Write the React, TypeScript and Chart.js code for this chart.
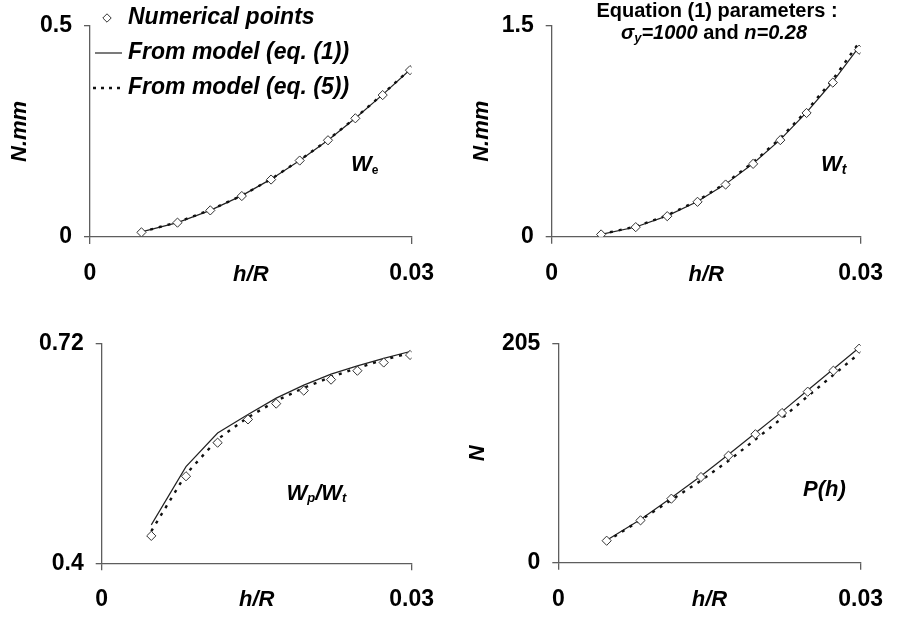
import React, { useEffect, useRef } from "react";
import { Chart, registerables } from "chart.js";
Chart.register(...registerables);

// ---------- data ----------
const hR = [0.0048, 0.00816, 0.01122, 0.01416, 0.01689, 0.01956, 0.0222, 0.02475, 0.0273, 0.02985];
const xTicks = [0, 0.03];

const weNum = [0.011, 0.034, 0.063, 0.097, 0.136, 0.181, 0.229, 0.281, 0.336, 0.395];
const weEq1 = [0.012, 0.034, 0.063, 0.098, 0.137, 0.181, 0.229, 0.281, 0.337, 0.396];
const weEq5 = [0.012, 0.035, 0.064, 0.098, 0.137, 0.182, 0.23, 0.282, 0.338, 0.397];
const weTicks = [0, 0.5];

const wtNum = [0.016, 0.068, 0.146, 0.248, 0.371, 0.518, 0.687, 0.88, 1.096, 1.33];
const wtEq1 = [0.017, 0.069, 0.148, 0.25, 0.374, 0.521, 0.69, 0.884, 1.102, 1.35];
const wtEq5 = [0.018, 0.072, 0.152, 0.256, 0.381, 0.529, 0.7, 0.896, 1.118, 1.38];
const wtTicks = [0, 1.5];

const ratioNum = [0.44, 0.527, 0.576, 0.61, 0.633, 0.652, 0.668, 0.681, 0.693, 0.704];
const ratioEq1 = [0.456, 0.541, 0.59, 0.617, 0.641, 0.66, 0.676, 0.688, 0.699, 0.709];
const ratioEq5 = [0.447, 0.53, 0.581, 0.613, 0.637, 0.656, 0.672, 0.685, 0.697, 0.707];
const ratioTicks = [0.4, 0.72];

const pNum = [20.6, 39.7, 60, 80.3, 100.3, 120.4, 140.3, 160.3, 180, 200.6];
const pEq1 = [21, 40.5, 60.8, 81.2, 101.5, 121.6, 141.6, 161.6, 181.5, 201.5];
const pEq5 = [20, 40, 58.8, 77, 95.5, 115.5, 135.5, 156, 176, 196];
const pTicks = [0, 205];

const legendLabels = ["Numerical points", "From model (eq. (1))", "From model (eq. (5))"];

// ---------- styles ----------
const FF = '"Liberation Sans", Arial, Helvetica, sans-serif';
const BI = (s: number) => `italic bold ${s}px ${FF}`;
const B = (s: number) => `bold ${s}px ${FF}`;
const AXIS = "#5e5e5e";
const DOT_DASH = [3, 6];
const TICK_SIZE = 23;

type Part = { t: string; f: string; dy?: number };
type Item = { x: number; y: number; align?: "left" | "center"; parts: Part[] };

const decoPlugin = {
  id: "deco",
  afterDraw(chart: any, _a: any, opts: any) {
    const ctx = chart.ctx as CanvasRenderingContext2D;
    ctx.save();
    ctx.fillStyle = "#000";
    ctx.textBaseline = "middle";
    ctx.textAlign = "left";
    const items: Item[] = opts.items || [];
    for (const it of items) {
      let w = 0;
      for (const p of it.parts) {
        ctx.font = p.f;
        w += ctx.measureText(p.t).width;
      }
      let x = it.align === "center" ? it.x - w / 2 : it.x;
      for (const p of it.parts) {
        ctx.font = p.f;
        ctx.fillText(p.t, x, it.y + (p.dy || 0));
        x += ctx.measureText(p.t).width;
      }
    }
    if (opts.legend) {
      const L = opts.legend;
      ctx.beginPath();
      const r = 4.2;
      ctx.moveTo(L.symX, L.rows[0] - r);
      ctx.lineTo(L.symX + r, L.rows[0]);
      ctx.lineTo(L.symX, L.rows[0] + r);
      ctx.lineTo(L.symX - r, L.rows[0]);
      ctx.closePath();
      ctx.fillStyle = "#fff";
      ctx.fill();
      ctx.strokeStyle = "#333";
      ctx.lineWidth = 1;
      ctx.stroke();
      ctx.beginPath();
      ctx.moveTo(L.lineX0, L.rows[1]);
      ctx.lineTo(L.lineX1, L.rows[1]);
      ctx.strokeStyle = "#222";
      ctx.lineWidth = 1.2;
      ctx.stroke();
      ctx.beginPath();
      ctx.setLineDash([3, 5]);
      ctx.moveTo(L.lineX0 - 2, L.rows[2]);
      ctx.lineTo(L.lineX1 + 2, L.rows[2]);
      ctx.strokeStyle = "#111";
      ctx.lineWidth = 2.4;
      ctx.stroke();
      ctx.setLineDash([]);
      ctx.fillStyle = "#000";
      ctx.font = BI(23);
      legendLabels.forEach((t, i) => ctx.fillText(t, L.textX, L.rows[i]));
    }
    ctx.restore();
  },
};

type Panel = {
  left: number; top: number; w: number; h: number;
  area: { left: number; right: number; top: number; bottom: number };
  num: number[]; eq1: number[]; eq5: number[];
  yTicks: number[]; yTitle: string | null; yTitleX: number; xTitleY: number;
  items: Item[]; legend?: any;
};

function buildConfig(p: Panel): any {
  const pts = (ys: number[]) => hR.map((x, i) => ({ x, y: ys[i] }));
  const xLH = 22 * 1.2;
  return {
    type: "scatter",
    data: {
      datasets: [
        {
          label: legendLabels[0], data: pts(p.num), showLine: false,
          pointStyle: "rectRot", pointRadius: 4.6, pointBackgroundColor: "#fff",
          pointBorderColor: "#333", pointBorderWidth: 1, order: 0,
        },
        {
          label: legendLabels[1], data: pts(p.eq1), showLine: true, borderColor: "#222",
          borderWidth: 1.2, pointRadius: 0, tension: 0, order: 2,
        },
        {
          label: legendLabels[2], data: pts(p.eq5), showLine: true, borderColor: "#111",
          borderWidth: 2.4, borderDash: DOT_DASH, pointRadius: 0, tension: 0, order: 1,
        },
      ],
    },
    options: {
      animation: false,
      responsive: false,
      maintainAspectRatio: false,
      events: [],
      layout: { padding: { left: 0, top: p.area.top, right: p.w - p.area.right, bottom: 0 } },
      plugins: {
        legend: { display: false },
        tooltip: { enabled: false },
        deco: { items: p.items, legend: p.legend },
      },
      scales: {
        x: {
          type: "linear", min: 0, max: 0.03,
          afterBuildTicks: (s: any) => { s.ticks = xTicks.map((v) => ({ value: v })); },
          afterFit: (s: any) => { s.height = p.h - p.area.bottom; },
          grid: { drawOnChartArea: false, tickLength: 7, color: AXIS, lineWidth: 1.3 },
          border: { color: AXIS, width: 1.3 },
          ticks: {
            padding: 16, color: "#000", font: { family: FF, size: TICK_SIZE, weight: "bold" },
            autoSkip: false, maxRotation: 0, callback: (v: any) => String(v),
          },
          title: {
            display: true, text: "h/R", color: "#000",
            font: { family: FF, size: 22, weight: "bold", style: "italic" },
            padding: { top: 0, bottom: p.h - p.xTitleY - xLH / 2 },
          },
        },
        y: {
          type: "linear", min: p.yTicks[0], max: p.yTicks[1],
          afterBuildTicks: (s: any) => { s.ticks = p.yTicks.map((v) => ({ value: v })); },
          afterFit: (s: any) => { s.width = p.area.left; },
          grid: { drawOnChartArea: false, tickLength: 6, color: AXIS, lineWidth: 1.3 },
          border: { color: AXIS, width: 1.3 },
          ticks: {
            padding: 12, color: "#000", font: { family: FF, size: TICK_SIZE, weight: "bold" },
            autoSkip: false, callback: (v: any) => String(v),
          },
          title: {
            display: !!p.yTitle, text: p.yTitle || "", color: "#000",
            font: { family: FF, size: 22, weight: "bold", style: "italic" },
            padding: { top: p.yTitleX - xLH / 2, bottom: 0 },
          },
        },
      },
    },
    plugins: [decoPlugin],
  };
}

const panels: Panel[] = [
  {
    left: 0, top: 0, w: 450, h: 310,
    area: { left: 90, right: 412, top: 17, bottom: 237 },
    num: weNum, eq1: weEq1, eq5: weEq5, yTicks: weTicks, yTitle: "N.mm", yTitleX: 20, xTitleY: 275,
    items: [{ x: 351, y: 165, parts: [{ t: "W", f: BI(22) }, { t: "e", f: B(12), dy: 6 }] }],
    legend: { symX: 107, lineX0: 95, lineX1: 122, textX: 128, rows: [18, 53, 88] },
  },
  {
    left: 450, top: 0, w: 449, h: 310,
    area: { left: 101.7, right: 424.3, top: 16.7, bottom: 236.7 },
    num: wtNum, eq1: wtEq1, eq5: wtEq5, yTicks: wtTicks, yTitle: "N.mm", yTitleX: 31.7, xTitleY: 275,
    items: [
      { x: 371, y: 165, parts: [{ t: "W", f: BI(22) }, { t: "t", f: BI(14), dy: 5 }] },
      { x: 267, y: 11, align: "center", parts: [{ t: "Equation (1) parameters :", f: B(20) }] },
      {
        x: 264, y: 33, align: "center",
        parts: [
          { t: "σ", f: BI(20) }, { t: "y", f: BI(13), dy: 5 }, { t: "=1000", f: BI(20) },
          { t: " and ", f: B(20) }, { t: "n=0.28", f: BI(20) },
        ],
      },
    ],
  },
  {
    left: 0, top: 310, w: 450, h: 310,
    area: { left: 101.7, right: 412.3, top: 34, bottom: 253.3 },
    num: ratioNum, eq1: ratioEq1, eq5: ratioEq5, yTicks: ratioTicks, yTitle: null, yTitleX: 20, xTitleY: 290,
    items: [{
      x: 286.5, y: 183.5,
      parts: [{ t: "W", f: BI(22) }, { t: "p", f: BI(13), dy: 5 }, { t: "/W", f: BI(22) }, { t: "t", f: BI(13), dy: 5 }],
    }],
  },
  {
    left: 450, top: 310, w: 449, h: 310,
    area: { left: 108.3, right: 424.3, top: 34, bottom: 252.7 },
    num: pNum, eq1: pEq1, eq5: pEq5, yTicks: pTicks, yTitle: "N", yTitleX: 28, xTitleY: 290,
    items: [{ x: 353, y: 180, parts: [{ t: "P(h)", f: BI(22) }] }],
  },
];

function PanelChart({ p }: { p: Panel }) {
  const ref = useRef<HTMLCanvasElement | null>(null);
  useEffect(() => {
    if (!ref.current) return;
    const chart = new Chart(ref.current, buildConfig(p));
    return () => chart.destroy();
  }, [p]);
  return (
    <canvas
      ref={ref}
      width={p.w}
      height={p.h}
      style={{ position: "absolute", left: p.left, top: p.top, width: p.w, height: p.h }}
    />
  );
}

export default function App() {
  return (
    <div style={{ position: "absolute", left: 0, top: 0, width: 899, height: 620, background: "#fff", overflow: "hidden" }}>
      {panels.map((p, i) => (
        <PanelChart key={i} p={p} />
      ))}
    </div>
  );
}
